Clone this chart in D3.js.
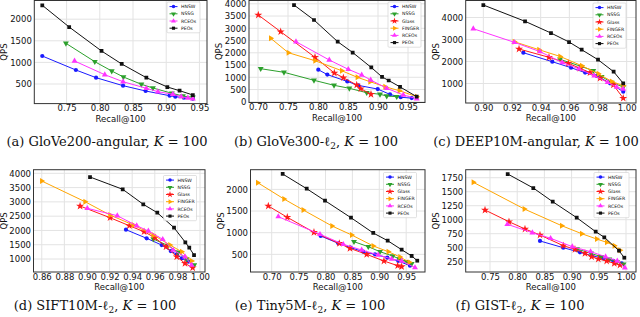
<!DOCTYPE html>
<html><head><meta charset="utf-8">
<script src="https://cdn.jsdelivr.net/npm/d3@7"></script>
<style>body{margin:0;background:#fff}svg{display:block}</style>
</head><body>
<svg id="c" width="640" height="317"></svg>
<script>
// ---------- data: [Recall@100, QPS] ----------
// (a) GloVe200-angular
const a_HNSW  = [[0.7134,1148],[0.764,824],[0.7944,646],[0.835,461],[0.869,338],[0.9051,229],[0.9137,206],[0.9266,183],[0.9401,160]];
const a_NSSG  = [[0.749,1442],[0.7925,1016],[0.818,801],[0.8356,662],[0.8626,493],[0.88,407],[0.9086,285],[0.9251,222],[0.9401,192]];
const a_RCEOs = [[0.762,1032],[0.8075,715],[0.835,553],[0.8701,400],[0.8875,322],[0.91,262],[0.9227,206],[0.9326,176],[0.9401,160]];
const a_PEOs  = [[0.7134,2322],[0.7539,1819],[0.8026,1264],[0.833,963],[0.8701,646],[0.9017,430],[0.9201,345],[0.9401,245]];
// (b) GloVe300-l2
const b_HNSW   = [[0.8005,1310],[0.8155,1110],[0.8488,830],[0.8672,670],[0.8995,520],[0.92,300],[0.9378,185],[0.9562,150]];
const b_NSSG   = [[0.7045,1351],[0.7433,1204],[0.7933,878],[0.8267,673],[0.8522,551],[0.8812,371],[0.9033,306],[0.9145,237],[0.9312,208]];
const b_Glass  = [[0.7005,3543],[0.7378,2861],[0.795,1816],[0.8272,1176],[0.8422,984],[0.8645,686],[0.8712,535],[0.8883,306]];
const b_FINGER = [[0.7212,2592],[0.7505,2004],[0.795,1678],[0.8395,1269],[0.8655,1000],[0.8867,820],[0.9117,616],[0.9355,453],[0.9645,208]];
const b_RCEOs  = [[0.7633,2453],[0.8188,1706],[0.8505,1327],[0.8728,1094],[0.8878,890],[0.9145,551],[0.9422,278],[0.9645,127]];
const b_PEOs   = [[0.76,3951],[0.7933,3339],[0.8328,2453],[0.8578,2012],[0.8888,1400],[0.9067,1016],[0.9178,869],[0.9367,608],[0.9645,208]];
// (c) DEEP10M-angular
const c_HNSW   = [[0.9279,2400],[0.9481,1991],[0.9612,1718],[0.971,1495],[0.9791,1345],[0.9884,1009],[0.9976,627]];
const c_NSSG   = [[0.9535,2100],[0.9686,1768],[0.9767,1586],[0.9825,1314],[0.9895,1050],[0.9976,841]];
const c_Glass  = [[0.9249,2568],[0.9458,2191],[0.9593,1918],[0.9674,1695],[0.9744,1495],[0.9814,1241],[0.9907,936],[0.9976,332]];
const c_FINGER = [[0.9216,2900],[0.9388,2536],[0.9535,2232],[0.9686,1809],[0.9802,1445],[0.9895,1095],[0.9976,900]];
const c_RCEOs  = [[0.893,3491],[0.9216,2873],[0.9395,2450],[0.9551,1950],[0.9667,1664],[0.9774,1355],[0.9867,1050],[0.993,841],[0.9976,750]];
const c_PEOs   = [[0.9,4568],[0.9291,3827],[0.9472,3295],[0.9598,2886],[0.9686,2536],[0.98,2082],[0.9909,1536],[0.9976,1009]];
// (d) SIFT10M-l2
const d_HNSW   = [[0.9345,2026],[0.9528,1725],[0.9661,1490],[0.9741,1280],[0.9794,1165],[0.9838,1025],[0.9896,906]];
const d_NSSG   = [[0.9587,1700],[0.9719,1466],[0.9808,1235],[0.9882,1000],[0.9949,790]];
const d_Glass  = [[0.8939,2855],[0.9204,2446],[0.9375,2166],[0.9505,1956],[0.9602,1746],[0.9699,1431],[0.9794,1081],[0.9867,850],[0.9935,696]];
const d_FINGER = [[0.86,3730],[0.8983,3006],[0.9204,2540],[0.941,2190],[0.9587,1840],[0.9734,1490],[0.9838,1256],[0.9926,930]];
const d_RCEOs  = [[0.9003,2775],[0.9268,2516],[0.944,2166],[0.9543,1980],[0.967,1690],[0.9763,1315],[0.9867,1081],[0.9926,790]];
const d_PEOs   = [[0.9027,3870],[0.9316,3440],[0.9498,2915],[0.9622,2621],[0.977,2096],[0.987,1585],[0.9905,1396],[0.9947,1140]];
// (e) Tiny5M-l2
const e_HNSW   = [[0.7911,924],[0.8238,755],[0.8468,654],[0.8703,561],[0.892,501],[0.9149,423],[0.9353,346],[0.9571,238]];
const e_NSSG   = [[0.853,792],[0.8796,677],[0.9013,561],[0.9249,462],[0.9372,393],[0.9509,330],[0.9602,284]];
const e_Glass  = [[0.6937,1617],[0.729,1355],[0.7786,1008],[0.8257,753],[0.8455,638],[0.8766,499],[0.9087,346],[0.9342,238],[0.9416,215]];
const e_FINGER = [[0.674,2155],[0.7229,1778],[0.7587,1524],[0.8121,1155],[0.8487,947],[0.8888,693],[0.9167,561],[0.9385,439],[0.9558,316]];
const e_RCEOs  = [[0.7123,1370],[0.7898,963],[0.8331,732],[0.8673,600],[0.8981,485],[0.923,393],[0.9416,346],[0.9664,192]];
const e_PEOs   = [[0.7204,2356],[0.7651,2016],[0.7991,1739],[0.8474,1346],[0.8888,993],[0.9156,815],[0.9416,607],[0.9602,462],[0.9706,353]];
// (f) GIST-l2
const f_HNSW   = [[0.8419,620],[0.8847,500],[0.9154,418],[0.9369,357],[0.9583,311],[0.9767,263],[0.9921,221]];
const f_NSSG   = [[0.9099,477],[0.9356,400],[0.954,339],[0.9693,293],[0.9834,250],[0.9955,204]];
const f_Glass  = [[0.7408,1173],[0.7849,964],[0.8143,834],[0.8419,727],[0.8847,536],[0.9062,471],[0.9246,400],[0.9369,339],[0.9491,298],[0.9645,263],[0.9785,221],[0.989,191]];
const f_FINGER = [[0.7193,1668],[0.8131,1191],[0.8818,893],[0.9186,750],[0.9461,655],[0.9645,596],[0.9785,536],[0.989,454]];
const f_RCEOs  = [[0.7818,918],[0.8278,768],[0.8614,668],[0.9013,518],[0.9349,429],[0.9625,339],[0.984,263],[0.998,143]];
const f_PEOs   = [[0.7825,1816],[0.8296,1566],[0.8653,1321],[0.9094,1036],[0.9443,786],[0.9601,686],[0.9871,446],[0.9969,321]];

// ---------- tick labels ----------
const ticksX_a = [0.75,0.80,0.85,0.90,0.95];
const ticksY_a = [500,1000,1500,2000];
const ticksX_b = [0.70,0.75,0.80,0.85,0.90,0.95];
const ticksY_b = [0,500,1000,1500,2000,2500,3000,3500,4000];
const ticksX_c = [0.90,0.92,0.94,0.96,0.98,1.00];
const ticksY_c = [1000,2000,3000,4000];
const ticksX_d = [0.86,0.88,0.90,0.92,0.94,0.96,0.98,1.00];
const ticksY_d = [1000,1500,2000,2500,3000,3500,4000];
const ticksX_e = [0.70,0.75,0.80,0.85,0.90,0.95];
const ticksY_e = [500,1000,1500,2000];
const ticksX_f = [0.75,0.80,0.85,0.90,0.95,1.00];
const ticksY_f = [250,500,750,1000,1250,1500,1750];

const seriesNames = ["HNSW","NSSG","Glass","FINGER","RCEOs","PEOs"];
const captions = [
  [["(a) GloVe200-angular, ","n"],["K","i"],[" = 100","n"]],
  [["(b) GloVe300-","n"],["ℓ","n"],["2","s"],[", ","n"],["K","i"],[" = 100","n"]],
  [["(c) DEEP10M-angular, ","n"],["K","i"],[" = 100","n"]],
  [["(d) SIFT10M-","n"],["ℓ","n"],["2","s"],[", ","n"],["K","i"],[" = 100","n"]],
  [["(e) Tiny5M-","n"],["ℓ","n"],["2","s"],[", ","n"],["K","i"],[" = 100","n"]],
  [["(f) GIST-","n"],["ℓ","n"],["2","s"],[", ","n"],["K","i"],[" = 100","n"]]
];

// ---------- styles ----------
const colors = {HNSW:"#1a1aff", NSSG:"#2ca02c", Glass:"#ff1a1a", FINGER:"#ffa500", RCEOs:"#ff33ff", PEOs:"#111111"};
const symbols = {
  HNSW:{t:d3.symbolCircle,s:14,r:0},
  NSSG:{t:d3.symbolTriangle,s:15,r:180},
  Glass:{t:d3.symbolStar,s:20,r:0},
  FINGER:{t:d3.symbolTriangle,s:15,r:90},
  RCEOs:{t:d3.symbolTriangle,s:15,r:0},
  PEOs:{t:d3.symbolSquare,s:14,r:0}
};

const panels = [
  {frame:[34.3,0.5,207,103.6], xDom:[0.7014,0.9614], yDom:[46,2433], xT:ticksX_a, yT:ticksY_a, data:{HNSW:a_HNSW,NSSG:a_NSSG,RCEOs:a_RCEOs,PEOs:a_PEOs}, leg:[167,2,33], cap:[107,146]},
  {frame:[249,0.5,425,102.5], xDom:[0.685,0.9783], yDom:[-29,4135], xT:ticksX_b, yT:ticksY_b, data:{HNSW:b_HNSW,NSSG:b_NSSG,Glass:b_Glass,FINGER:b_FINGER,RCEOs:b_RCEOs,PEOs:b_PEOs}, leg:[388,2,33], cap:[316,146]},
  {frame:[465.7,0.5,636,103], xDom:[0.8877,1.0065], yDom:[114,4773], xT:ticksX_c, yT:ticksY_c, data:{HNSW:c_HNSW,NSSG:c_NSSG,Glass:c_Glass,FINGER:c_FINGER,RCEOs:c_RCEOs,PEOs:c_PEOs}, leg:[593,3,33], cap:[536,146]},
  {frame:[33.5,169.7,205,272], xDom:[0.8527,1.0044], yDom:[546,4126], xT:ticksX_d, yT:ticksY_d, data:{HNSW:d_HNSW,NSSG:d_NSSG,Glass:d_Glass,FINGER:d_FINGER,RCEOs:d_RCEOs,PEOs:d_PEOs}, leg:[163.5,175.5,33], cap:[95,310]},
  {frame:[250.5,169.7,425,272], xDom:[0.6606,0.985], yDom:[92,2455], xT:ticksX_e, yT:ticksY_e, data:{HNSW:e_HNSW,NSSG:e_NSSG,Glass:e_Glass,FINGER:e_FINGER,RCEOs:e_RCEOs,PEOs:e_PEOs}, leg:[383.5,172.5,33], cap:[310,310]},
  {frame:[465.7,169.7,636,272], xDom:[0.7053,1.0184], yDom:[66,1893], xT:ticksX_f, yT:ticksY_f, data:{HNSW:f_HNSW,NSSG:f_NSSG,Glass:f_Glass,FINGER:f_FINGER,RCEOs:f_RCEOs,PEOs:f_PEOs}, leg:[594,172.5,35], cap:[520,310]}
];

const svg = d3.select("#c");
const sans = "DejaVu Sans, sans-serif";

panels.forEach((p, i) => {
  const [L,T,R,B] = p.frame;
  const x = d3.scaleLinear().domain(p.xDom).range([L,R]);
  const y = d3.scaleLinear().domain(p.yDom).range([B,T]);
  const g = svg.append("g");

  // grid
  g.selectAll(null).data(p.xT).join("line")
    .attr("x1",d=>x(d)).attr("x2",d=>x(d)).attr("y1",T).attr("y2",B)
    .attr("stroke","#e3e3e3").attr("stroke-width",1);
  g.selectAll(null).data(p.yT).join("line")
    .attr("y1",d=>y(d)).attr("y2",d=>y(d)).attr("x1",L).attr("x2",R)
    .attr("stroke","#e3e3e3").attr("stroke-width",1);

  // clip
  const cid = "clip"+i;
  svg.append("clipPath").attr("id",cid).append("rect")
    .attr("x",L).attr("y",T).attr("width",R-L).attr("height",B-T);
  const pg = g.append("g").attr("clip-path",`url(#${cid})`);

  const line = d3.line().x(d=>x(d[0])).y(d=>y(d[1]));
  seriesNames.forEach(name => {
    const ds = p.data[name];
    if (!ds) return;
    pg.append("path").datum(ds).attr("d",line)
      .attr("fill","none").attr("stroke",colors[name]).attr("stroke-width",1);
    const sym = symbols[name];
    pg.selectAll(null).data(ds).join("path")
      .attr("d", d3.symbol().type(sym.t).size(sym.s))
      .attr("transform", d=>`translate(${x(d[0])},${y(d[1])}) rotate(${sym.r})`)
      .attr("fill", colors[name]);
  });

  // frame
  g.append("rect").attr("x",L).attr("y",T).attr("width",R-L).attr("height",B-T)
    .attr("fill","none").attr("stroke","#333").attr("stroke-width",1);

  // axes
  const ax = g.append("g").attr("transform",`translate(0,${B})`)
    .call(d3.axisBottom(x).tickValues(p.xT).tickFormat(d3.format(".2f")).tickSize(0).tickPadding(1.6));
  const ay = g.append("g").attr("transform",`translate(${L},0)`)
    .call(d3.axisLeft(y).tickValues(p.yT).tickFormat(d3.format("d")).tickSize(0).tickPadding(2.5));
  [ax,ay].forEach(a => {
    a.select(".domain").remove();
    a.selectAll("line").remove();
    a.selectAll("text").attr("font-family",sans).attr("font-size",8.5).attr("fill","#111");
  });

  // axis labels
  g.append("text").attr("x",(L+R)/2).attr("y",B+18).attr("text-anchor","middle")
    .attr("font-family",sans).attr("font-size",8.5).attr("fill","#111").text("Recall@100");
  g.append("text").attr("transform",`translate(${L-27},${(T+B)/2}) rotate(-90)`)
    .attr("text-anchor","middle").attr("font-family",sans).attr("font-size",8.5).attr("fill","#111").text("QPS");

  // legend
  const names = seriesNames.filter(n => p.data[n]);
  const [lx,ly,lw] = p.leg;
  const lh = 7.2;
  const lg = g.append("g");
  lg.append("rect").attr("x",lx).attr("y",ly).attr("width",lw).attr("height",names.length*lh+2)
    .attr("rx",1).attr("fill","#fff").attr("fill-opacity",0.85).attr("stroke","#cccccc").attr("stroke-width",0.6);
  names.forEach((n,k) => {
    const cy = ly + 4.6 + k*lh;
    lg.append("line").attr("x1",lx+2.5).attr("x2",lx+10.5).attr("y1",cy).attr("y2",cy)
      .attr("stroke",colors[n]).attr("stroke-width",1);
    const sym = symbols[n];
    lg.append("path").attr("d",d3.symbol().type(sym.t).size(sym.s*0.7)())
      .attr("transform",`translate(${lx+6.5},${cy}) rotate(${sym.r})`).attr("fill",colors[n]);
    lg.append("text").attr("x",lx+14).attr("y",cy+1.6).attr("font-family",sans)
      .attr("font-size",4.6).attr("fill","#111").text(n);
  });

  // caption
  const ct = svg.append("text").attr("x",p.cap[0]).attr("y",p.cap[1]).attr("text-anchor","middle")
    .attr("font-family","DejaVu Serif, serif").attr("font-size",13).attr("fill","#111");
  captions[i].forEach(([t,s]) => {
    const ts = ct.append("tspan").text(t);
    if (s==="i") ts.attr("font-style","italic");
    if (s==="s") ts.attr("font-size",9).attr("dy",2.5);
    if (s==="n" && t.startsWith(",")) ts.attr("dy",-2.5);
  });
});
</script>
</body></html>
